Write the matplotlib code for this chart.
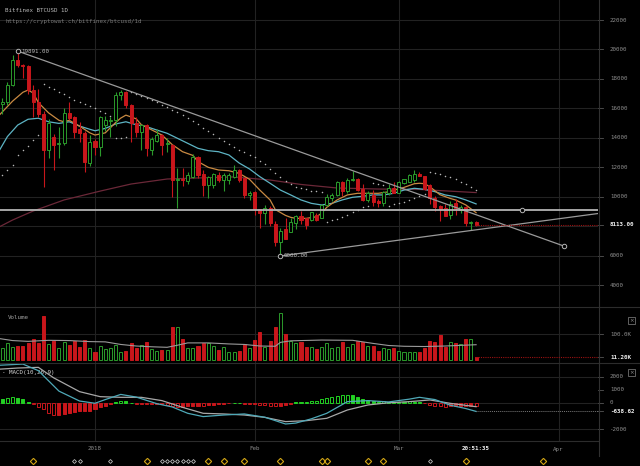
import matplotlib
matplotlib.use("Agg")
import matplotlib.pyplot as plt
import matplotlib.dates as mdates
import matplotlib.transforms as mtransforms
from matplotlib.lines import Line2D
from matplotlib.patches import Rectangle
import numpy as np
import pandas as pd

# ---- data (Dec 13 2017 .. Mar 16 2018) ----
first_day, last_day = "2017-12-13", "2018-03-16"

opens = [
    16900, 16300, 16450, 17600, 19300, 18950, 18850, 17250, 16450, 15650,
    13200, 14050, 13600, 13640, 15720, 15400, 14630, 14320, 12290,
    13800, 13410, 14900, 15150, 15220, 16900, 17140, 16240, 15000, 14400,
    14880, 13190, 13800, 14200, 13580, 13530, 11150, 11220, 11080, 11370,
    12730, 11540, 10810, 10810, 11500, 11150, 11150, 11370, 11830, 11290, 10150,
    10360, 9160, 8890, 9230, 8170, 6970, 7810, 7660, 8260, 8710,
    8560, 8440, 8780, 8560, 9460, 9900, 10140, 11050, 10400, 11150,
    11200, 10520, 9800, 10140, 9700, 9570, 10250, 10630,
    10290, 10930, 11040, 11150, 11560, 11420, 10810, 9910, 9400, 9230,
    8780, 9570, 9150, 9300, 8230, 8280,
]
highs = [
    17300, 16700, 17800, 19650, 19891, 19000, 18950, 17600, 17300, 15800,
    15300, 14300, 14770, 16000, 16460, 15500, 15100, 14500, 14200,
    13950, 15500, 15500, 15440, 17100, 17250, 17200, 16300, 15400, 14950,
    14950, 14100, 14600, 14250, 14000, 13600, 11950, 11950, 11700, 12900,
    12800, 11800, 11400, 11600, 11700, 11600, 11600, 12170, 11880, 11300, 10430,
    10380, 9200, 9460, 9400, 8350, 7900, 8550, 8600, 8750, 9050,
    8580, 9000, 8900, 9500, 10200, 10300, 11100, 11100, 11300, 11780,
    11300, 10900, 10400, 10450, 9850, 10400, 10850, 11050,
    11100, 11200, 11550, 11830, 11700, 11450, 10900, 10100, 9450, 9500,
    9700, 9850, 9450, 9400, 8400, 8350,
]
lows = [
    16000, 15600, 16250, 17500, 18800, 18050, 16950, 15440, 15400, 10700,
    12640, 11830, 12620, 13500, 15200, 14000, 13750, 11720, 12100,
    12850, 12800, 14500, 14080, 14800, 16600, 16000, 13750, 14100, 13200,
    12750, 12850, 13700, 12850, 13070, 10020, 9250, 10750, 10900, 11300,
    11300, 10100, 9910, 10600, 11000, 10400, 10900, 11300, 11000, 9950, 9800,
    8800, 7900, 8200, 8000, 6700, 6000, 7150, 7600, 7800, 8200,
    7850, 8400, 8400, 8550, 9400, 9700, 10100, 10100, 10300, 11100,
    10400, 9700, 9650, 9400, 9350, 9400, 10150, 10300,
    10250, 10850, 11000, 11000, 11400, 10500, 9500, 9050, 8400, 8700,
    8500, 8800, 8900, 8050, 7760, 8050,
]
closes = [
    16350, 16450, 17600, 19300, 18950, 18850, 17250, 16450, 15650, 13200,
    15000, 13530, 13650, 15720, 15340, 14430, 14320, 12400, 13750,
    13370, 15400, 15220, 15250, 16900, 17140, 16240, 15020, 14400, 14860,
    13320, 13900, 14200, 13530, 13620, 11150, 11200, 11120, 11480, 12730,
    11490, 10810, 11370, 11540, 11150, 11480, 11470, 11830, 11150, 10140, 10270,
    9160, 8900, 9230, 8210, 6970, 7720, 7130, 8330, 8710, 8440,
    8100, 9000, 8440, 9460, 10020, 10150, 11040, 10400, 11150, 11250,
    10480, 9800, 10250, 9680, 9600, 10360, 10630, 10250,
    11050, 11200, 11490, 11540, 11420, 10520, 9910, 9300, 9200, 8710,
    9530, 9230, 9300, 8210, 8300, 8113,
]
volumes_k = [
    60, 45, 64, 49, 54, 55, 66, 80, 66, 171, 62, 72, 48, 71, 57, 72, 49, 76, 45,
    32, 54, 41, 45, 58, 32, 35, 66, 48, 58, 71, 41, 35, 39, 39, 126, 126, 81, 48, 48,
    54, 67, 64, 54, 39, 51, 32, 32, 35, 60, 45,
    77, 109, 49, 73, 126, 183, 100, 75, 64, 68, 51, 51, 41, 51, 67, 45, 51, 71, 51, 60,
    75, 71, 55, 55, 35, 45, 41, 45,
    35, 32, 32, 32, 30, 45, 75, 68, 97, 51, 71, 67, 60, 80, 81, 11.2,
]
psar = [
    11290, 11490, 11830, 12170, 12850, 13190, 13460, 13870, 14200, 17660,
    17460, 17290, 17120, 16950, 16780, 16610, 16440, 16310, 16170,
    16030, 15860, 15700, 15520, 13980, 13980, 14050, 17120, 16980, 16850,
    16710, 16580, 16440, 16270, 16100, 15930, 15760, 15560, 15360, 15120,
    14920, 14680, 14470, 14270, 14030, 13830, 13590, 13390, 13220, 13050, 12880,
    12690, 12470, 12240, 11930, 11630, 11360, 11080, 10850, 10710, 10610,
    10510, 10440, 10390, 10340, 8330, 8420, 8510, 8640, 8810, 8980,
    9150, 9290, 9390, 10930, 10880, 10830, 9420, 9530,
    9590, 9680, 9800, 9930, 10070, 10200, 11715, 11650, 11560, 11440,
    11340, 11200, 11040, 10880, 10700, 10470,
]
macd_hist = [
    300, 280, 380, 420, 380, 280, 100, -100, -280, -480,
    -730, -910, -900, -800, -720, -680, -640, -620, -580,
    -480, -330, -200, -90, 60, 160, 120, 20, -60, -80,
    -110, -100, -90, -110, -130, -250, -300, -290, -260, -200,
    -190, -200, -170, -120, -90, -60, -30, 20, 30, -40, -60,
    -110, -150, -160, -190, -250, -200, -170, -90, 40, 60,
    80, 130, 170, 280, 400, 480, 560, 600, 620, 600,
    430, 300, 220, 150, 110, 120, 100, 80,
    90, 110, 120, 110, 70, -30, -120, -200, -260, -290,
    -250, -230, -210, -250, -240, -250,
]

# indicator lines
ema_fast_dates = ["2017-12-13", "2017-12-16", "2017-12-18", "2017-12-19", "2017-12-20", "2017-12-21",
                  "2017-12-23", "2017-12-25", "2017-12-26", "2017-12-27", "2017-12-29", "2017-12-31",
                  "2018-01-01", "2018-01-03", "2018-01-05", "2018-01-06", "2018-01-07", "2018-01-09",
                  "2018-01-10", "2018-01-12", "2018-01-14", "2018-01-16", "2018-01-18", "2018-01-20",
                  "2018-01-21", "2018-01-23", "2018-01-25", "2018-01-27", "2018-01-29", "2018-01-31",
                  "2018-02-02", "2018-02-04", "2018-02-05", "2018-02-07", "2018-02-08", "2018-02-09",
                  "2018-02-11", "2018-02-13", "2018-02-14", "2018-02-15", "2018-02-17", "2018-02-19",
                  "2018-02-21", "2018-02-23", "2018-02-25", "2018-02-27", "2018-03-02", "2018-03-04",
                  "2018-03-05", "2018-03-06", "2018-03-07", "2018-03-09", "2018-03-11", "2018-03-12",
                  "2018-03-14", "2018-03-16"]
ema_fast = [15400, 16500, 17100, 17250, 17050, 16400, 15700, 15200, 15100, 15200, 14800, 14350,
            14200, 14350, 15050, 15350, 15550, 15300, 14900, 14550, 14200, 13550, 13070, 12820,
            12400, 12010, 11830, 11780, 11600, 11200, 10470, 9800, 9150, 8750, 8620, 8550,
            8550, 8660, 8900, 9300, 9800, 10140, 10250, 10250, 10250, 10350, 10650, 10900,
            10930, 10900, 10700, 10150, 9900, 9800, 9460, 8940]

ema_slow_dates = ["2017-12-13", "2017-12-15", "2017-12-17", "2017-12-19", "2017-12-21", "2017-12-23",
                  "2017-12-25", "2017-12-27", "2017-12-29", "2017-12-31", "2018-01-01", "2018-01-03",
                  "2018-01-05", "2018-01-07", "2018-01-09", "2018-01-11", "2018-01-13", "2018-01-15",
                  "2018-01-17", "2018-01-19", "2018-01-21", "2018-01-23", "2018-01-25", "2018-01-27",
                  "2018-01-29", "2018-01-31", "2018-02-02", "2018-02-04", "2018-02-06", "2018-02-08",
                  "2018-02-10", "2018-02-12", "2018-02-14", "2018-02-16", "2018-02-18", "2018-02-20",
                  "2018-02-22", "2018-02-24", "2018-02-26", "2018-02-28", "2018-03-02", "2018-03-04",
                  "2018-03-06", "2018-03-08", "2018-03-10", "2018-03-12", "2018-03-14", "2018-03-16"]
ema_slow = [12900, 14100, 14880, 15270, 15340, 15100, 14990, 15100, 14810, 14590, 14490, 14650,
            14950, 15100, 14900, 14770, 14540, 14320, 13980, 13640, 13300, 13140, 13070, 12850,
            12300, 11900, 11380, 10930, 10470, 10140, 9800, 9570, 9460, 9570, 9800, 9980,
            10050, 10140, 10140, 10250, 10470, 10590, 10520, 10360, 10140, 10020, 9800, 9530]

ma_long_dates = ["2017-12-13", "2017-12-16", "2017-12-20", "2017-12-26", "2018-01-02", "2018-01-08",
                 "2018-01-15", "2018-01-21", "2018-01-28", "2018-02-04", "2018-02-10", "2018-02-17",
                 "2018-02-25", "2018-03-05", "2018-03-16"]
ma_long = [7900, 8440, 9050, 9800, 10400, 10880, 11220, 11290, 11360, 11150, 10850, 10610,
           10540, 10510, 10300]

vol_ma_dates = ["2017-12-13", "2017-12-16", "2017-12-19", "2017-12-23", "2017-12-27", "2017-12-31",
                "2018-01-03", "2018-01-06", "2018-01-09", "2018-01-12", "2018-01-15", "2018-01-17",
                "2018-01-19", "2018-01-23", "2018-01-27", "2018-01-30", "2018-02-02", "2018-02-05",
                "2018-02-06", "2018-02-08", "2018-02-14", "2018-02-20", "2018-02-24", "2018-02-27",
                "2018-03-02", "2018-03-06", "2018-03-10", "2018-03-16"]
vol_ma = [84, 75, 72, 76, 75, 71, 70, 60, 54, 51, 49, 57, 66, 66, 62, 60, 54, 53, 68, 74, 77, 76,
          64, 56, 53, 52, 54, 59]

macd_dates = ["2017-12-13", "2017-12-18", "2017-12-21", "2017-12-25", "2017-12-29", "2018-01-01",
              "2018-01-03", "2018-01-06", "2018-01-09", "2018-01-13", "2018-01-16", "2018-01-19",
              "2018-01-22", "2018-01-26", "2018-01-30", "2018-02-03", "2018-02-07", "2018-02-09",
              "2018-02-12", "2018-02-15", "2018-02-19", "2018-02-23", "2018-02-27", "2018-03-03",
              "2018-03-05", "2018-03-08", "2018-03-11", "2018-03-14", "2018-03-16"]
macd_line = [2850, 2950, 2450, 900, 150, -20, 260, 650, 450, -50, -300, -780, -1030, -910, -830,
             -1080, -1590, -1520, -1200, -780, 100, 180, 80, 290, 430, 260, -170, -420, -638.62]

signal_dates = ["2017-12-13", "2017-12-17", "2017-12-21", "2017-12-24", "2017-12-29", "2018-01-02",
                "2018-01-06", "2018-01-10", "2018-01-14", "2018-01-18", "2018-01-22", "2018-01-26",
                "2018-01-30", "2018-02-03", "2018-02-07", "2018-02-11", "2018-02-15", "2018-02-19",
                "2018-02-23", "2018-02-27", "2018-03-03", "2018-03-07", "2018-03-11", "2018-03-16"]
signal_line = [2550, 2650, 2700, 1900, 860, 480, 430, 430, 180, -330, -780, -830, -910, -1090,
               -1410, -1340, -1160, -530, -150, 20, 100, 230, -25, -280]

# drawn objects: trend lines, horizontal level, event markers
trend_down = (("2017-12-17", 19891), ("2018-04-02", 6680))
trend_up = (("2018-02-06", 6000), 46.7)          # start point, slope per day
level_price, level_marker = 9150, "2018-03-25"
events_gold = ["2017-12-20", "2018-01-11", "2018-01-23", "2018-01-26", "2018-01-30", "2018-02-06",
               "2018-02-14", "2018-02-15", "2018-02-23", "2018-02-26", "2018-03-14", "2018-03-29"]
events_white = ["2017-12-28", "2017-12-29", "2018-01-04", "2018-01-14", "2018-01-15", "2018-01-16",
                "2018-01-17", "2018-01-18", "2018-01-19", "2018-01-20", "2018-03-07"]
price_ticks = [4000, 6000, 10000, 12000, 14000, 16000, 18000, 20000, 22000]
macd_ticks = [2000, 1000, 0, -2000]
month_labels = {"2018-01-01": "2018", "2018-02-01": "Feb", "2018-03-01": "Mar", "2018-04-01": "Apr"}

# ---- styling ----
W, H = 640, 466
BG = "#000000"
GRID = "#222222"
GREEN = "#2b9a2b"
RED = "#c8161b"
TXT = "#8c8c8c"
FONT = "DejaVu Sans Mono"
FS = 4.2


def d(s):
    return mdates.date2num(pd.Timestamp(s).to_pydatetime())


days = mdates.date2num(pd.date_range(first_day, last_day, freq="D").to_pydatetime())
opens, highs, lows, closes = map(np.array, (opens, highs, lows, closes))
up = closes >= opens
jan1 = d("2018-01-01")
xlim = (jan1 - 95 / 5.15, jan1 + 503 / 5.15)

fig = plt.figure(figsize=(W / 100, H / 100), dpi=100, facecolor=BG)


def panel(y0, y1):
    ax = fig.add_axes([0, 1 - y1 / H, 598 / W, (y1 - y0) / H])
    ax.set_facecolor(BG)
    for s in ax.spines.values():
        s.set_visible(False)
    ax.set_xticks([])
    ax.set_yticks([])
    ax.set_xlim(*xlim)
    for m in month_labels:
        ax.axvline(d(m), color=GRID, lw=0.8, zorder=0)
    return ax


def right_label(ax, y, text, color=TXT, weight="normal"):
    tr = ax.get_yaxis_transform()
    ax.plot([1.0, 1.008], [y, y], color="#555555", lw=0.6, transform=tr, clip_on=False)
    ax.text(1.02, y, text, color=color, fontsize=FS, family=FONT, weight=weight,
            va="center", ha="left", transform=tr, clip_on=False)


# ---- price panel ----
ax = panel(0, 307)
ax.set_ylim(2542, 23356)
for v in range(4000, 24000, 2000):
    ax.axhline(v, color=GRID, lw=0.8, zorder=0)

ax.plot([d(x) for x in ma_long_dates], ma_long, color="#6b2838", lw=0.9, zorder=2)
ax.plot([d(x) for x in ema_slow_dates], ema_slow, color="#5db4c4", lw=0.9, zorder=2)
ax.plot([d(x) for x in ema_fast_dates], ema_fast, color="#c98a42", lw=0.9, zorder=2)
ax.plot(days, psar, ls="none", marker="o", ms=1.1, mec="none", mfc="#b8b8b8", zorder=2)

colors = np.where(up, GREEN, RED)
ax.vlines(days, lows, highs, colors=colors, lw=0.8, zorder=3)
body_h = np.maximum(np.abs(closes - opens), 70)
ax.bar(days, body_h, bottom=np.minimum(opens, closes), width=0.6,
       color=np.where(up, BG, RED), edgecolor=colors, linewidth=0.7, zorder=4)

# drawings
(p0, v0), (p1, v1) = trend_down
ax.plot([d(p0), d(p1)], [v0, v1], color="#9a9a9a", lw=0.9, zorder=5)
(q0, w0), slope = trend_up
ax.plot([d(q0), xlim[1]], [w0, w0 + slope * (xlim[1] - d(q0))], color="#9a9a9a", lw=0.9, zorder=5)
ax.axhline(level_price, color="#b4b4b4", lw=1.3, zorder=5)
ax.plot([d(p0), d(p1), d(q0), d(level_marker)], [v0, v1, w0, level_price], ls="none",
        marker="o", ms=3.2, mfc=BG, mec="#b4b4b4", mew=0.7, zorder=6)
ax.text(d(p0) + 0.7, v0, f"{v0:.2f}", color="#b4b4b4", fontsize=FS, family=FONT, va="center", zorder=6)
ax.text(d(q0) + 0.7, w0, f"{w0:.2f}", color="#b4b4b4", fontsize=FS, family=FONT, va="center", zorder=6)
ax.plot([days[-1], xlim[1]], [closes[-1], closes[-1]], color="#9a1212", lw=0.8, ls=(0, (1, 1)), zorder=5)

for t in price_ticks:
    right_label(ax, t, str(t))
right_label(ax, closes[-1], f"{closes[-1]:.2f}", color="#f0f0f0", weight="bold")

fig.text(5 / W, 1 - 10 / H, "Bitfinex BTCUSD 1D", color="#b8b8b8", fontsize=FS, family=FONT, va="center")
fig.text(5 / W, 1 - 21 / H, "https://cryptowat.ch/bitfinex/btcusd/1d", color="#777777",
         fontsize=FS, family=FONT, va="center")

# ---- volume panel ----
axv = panel(307, 363)
axv.set_ylim(-11.6, 204.6)
axv.axhline(100, color=GRID, lw=0.8, zorder=0)
axv.bar(days, volumes_k, width=0.6, color=np.where(up, BG, RED), edgecolor=colors, linewidth=0.7, zorder=3)
axv.plot([d(x) for x in vol_ma_dates], vol_ma, color="#9a9a9a", lw=0.8, zorder=4)
axv.plot([days[-1], xlim[1]], [volumes_k[-1]] * 2, color="#9a1212", lw=0.8, ls=(0, (1, 1)), zorder=4)
right_label(axv, 100, "100.0K")
right_label(axv, volumes_k[-1], f"{volumes_k[-1]:.2f}K", color="#f0f0f0", weight="bold")
axv.text(8 / 598, 0.78, "Volume", color="#a0a0a0", fontsize=FS, family=FONT, transform=axv.transAxes)

# ---- MACD panel ----
axm = panel(363, 441)
axm.set_ylim(-2879, 3030)
for v in (2000, 0, -2000):
    axm.axhline(v, color=GRID, lw=0.8, zorder=0)
hist = np.array(macd_hist)
grow = np.abs(hist) >= np.abs(np.r_[hist[0], hist[:-1]])
hcol = np.where(hist >= 0, "#22d022", "#c8161b")
axm.bar(days, hist, width=0.6, color=np.where(grow, BG, hcol), edgecolor=hcol, linewidth=0.7, zorder=3)
axm.plot([d(x) for x in signal_dates], signal_line, color="#a8a8a8", lw=0.9, zorder=4)
axm.plot([d(x) for x in macd_dates], macd_line, color="#4fa9b8", lw=0.9, zorder=4)
axm.plot([days[-1], xlim[1]], [macd_line[-1]] * 2, color="#777777", lw=0.7, ls=(0, (1, 1)), zorder=4)
for t in macd_ticks:
    right_label(axm, t, str(t))
right_label(axm, macd_line[-1], f"{macd_line[-1]:.2f}", color="#f0f0f0", weight="bold")
axm.text(2 / 598, 0.86, "- MACD(10,26,9)", color="#d0d0d0", fontsize=FS, family=FONT,
         transform=axm.transAxes, bbox=dict(fc=BG, ec="none", pad=0.5))

# ---- frame lines, close buttons ----
for y in (307, 363):
    fig.add_artist(Line2D([0, 1], [1 - y / H] * 2, color="#2c2c2c", lw=0.8))
fig.add_artist(Line2D([0, 598 / W], [1 - 441 / H] * 2, color="#2c2c2c", lw=0.8))
fig.add_artist(Line2D([598.5 / W] * 2, [1, 1 - 456 / H], color="#303030", lw=0.8))
for y in (317, 369):
    fig.add_artist(Rectangle((628 / W, 1 - (y + 7) / H), 7 / W, 7 / H, fill=False,
                             ec="#707070", lw=0.6, transform=fig.transFigure))
    fig.text(631.5 / W, 1 - (y + 3.5) / H, "×", color="#909090", fontsize=4, ha="center", va="center")

# ---- date axis and event markers ----
bt = mtransforms.blended_transform_factory(axm.transData, fig.transFigure)
for m, lab in month_labels.items():
    fig.text(d(m), 1 - 449 / H, lab, color=TXT, fontsize=FS, family=FONT, ha="center",
             va="center", transform=bt)
fig.text(days[-1], 1 - 449 / H, "20:51:35", color="#f0f0f0", fontsize=FS, family=FONT,
         weight="bold", ha="center", va="center", transform=bt)
fig.add_artist(Line2D([d(x) for x in events_gold], [1 - 461 / H] * len(events_gold), ls="none",
                      marker="D", ms=3.2, mfc="none", mec="#d2a514", mew=0.8, transform=bt))
fig.add_artist(Line2D([d(x) for x in events_white], [1 - 461 / H] * len(events_white), ls="none",
                      marker="D", ms=2.0, mfc="none", mec="#bbbbbb", mew=0.6, transform=bt))

fig.savefig("out.png", dpi=100, facecolor=BG)
